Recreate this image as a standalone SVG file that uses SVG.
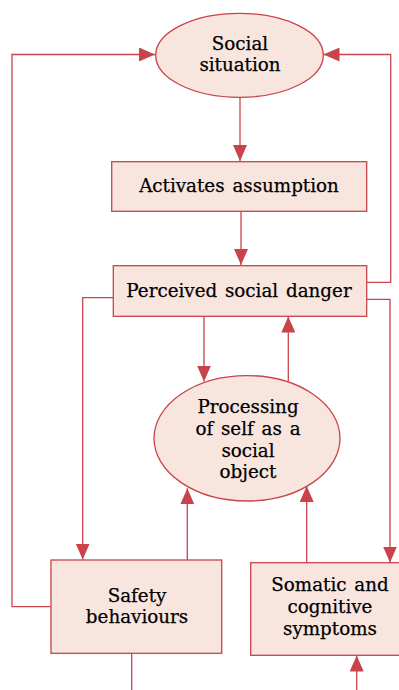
<svg xmlns="http://www.w3.org/2000/svg" width="399" height="690" viewBox="0 0 399 690">
<style>
.n{fill:#f7e5de;stroke:#c9444a;stroke-width:1.3}
.c{fill:none;stroke:#c9444a;stroke-width:1.3}
text{font-family:"DejaVu Serif",serif;font-size:18.3px;fill:#000;text-anchor:middle;word-spacing:2px;stroke:#000;stroke-width:0.25}
</style>
<defs>
<marker id="a" viewBox="0 0 16 14" refX="16" refY="7" markerWidth="16" markerHeight="14" markerUnits="userSpaceOnUse" orient="auto">
<path d="M0,0L16,7L0,14Z" fill="#c9444a"/>
</marker>
</defs>
<rect width="399" height="690" fill="#fff"/>
<g id="connectors">
<path class="c" d="M51,606.7H12V54.5H155" marker-end="url(#a)"/>
<path class="c" d="M366.7,282.3H390.7V54.5H323.5" marker-end="url(#a)"/>
<path class="c" d="M240,97.3V161" marker-end="url(#a)"/>
<path class="c" d="M241,211.3V265" marker-end="url(#a)"/>
<path class="c" d="M113.3,297.7H82.7V559.5" marker-end="url(#a)"/>
<path class="c" d="M366.7,299.3H390V562.5" marker-end="url(#a)"/>
<path class="c" d="M204,316.3V381.5" marker-end="url(#a)"/>
<path class="c" d="M288.3,381.5V316.5" marker-end="url(#a)"/>
<path class="c" d="M187.3,560V488.3" marker-end="url(#a)"/>
<path class="c" d="M306.7,562.5V486" marker-end="url(#a)"/>
<path class="c" d="M131.7,653.3V690"/>
<path class="c" d="M356.7,690V655.5" marker-end="url(#a)"/>
</g>
<g id="social-situation">
<ellipse class="n" cx="239.5" cy="55.3" rx="83.8" ry="42"/>
<text x="240" y="50">Social</text>
<text x="240" y="71">situation</text>
</g>
<g id="activates-assumption">
<rect class="n" x="111.7" y="161.7" width="255" height="49.6"/>
<text x="239" y="191.5">Activates assumption</text>
</g>
<g id="perceived-social-danger">
<rect class="n" x="113.3" y="265.7" width="253.4" height="50.6"/>
<text x="239" y="296.5">Perceived social danger</text>
</g>
<g id="processing-self">
<ellipse class="n" cx="247" cy="438.3" rx="93" ry="62.7"/>
<text x="248" y="412.7">Processing</text>
<text x="248" y="434.5">of self as a</text>
<text x="248" y="456.5">social</text>
<text x="248" y="478.3">object</text>
</g>
<g id="safety-behaviours">
<rect class="n" x="51" y="560" width="170.7" height="93.3"/>
<text x="137" y="601.7">Safety</text>
<text x="137" y="623.3">behaviours</text>
</g>
<g id="somatic-cognitive">
<rect class="n" x="250.7" y="562.7" width="160" height="92.6"/>
<text x="330" y="590.7">Somatic and</text>
<text x="330" y="612.7">cognitive</text>
<text x="330" y="635">symptoms</text>
</g>
</svg>
